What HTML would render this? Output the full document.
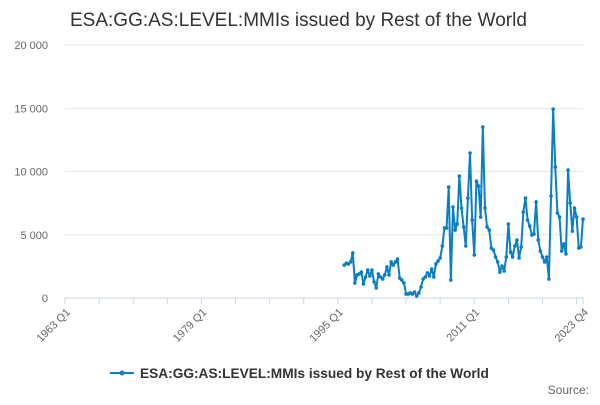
<!DOCTYPE html>
<html><head><meta charset="utf-8"><style>
body{margin:0;background:#fff;font-family:"Liberation Sans",sans-serif}
</style></head><body>
<svg width="600" height="400" xmlns="http://www.w3.org/2000/svg" id="chart">
<text x="70" y="26" font-size="19" fill="#333">ESA:GG:AS:LEVEL:MMIs issued by Rest of the World</text>
<g id="grid"></g><g id="xaxis"></g><g id="series"></g>
<g>
<line x1="110" y1="373" x2="134" y2="373" stroke="#0a7fc3" stroke-width="2"/>
<circle cx="122" cy="373" r="2.5" fill="#0a7fc3"/>
<text x="140" y="378" font-size="13.7" font-weight="bold" fill="#333">ESA:GG:AS:LEVEL:MMIs issued by Rest of the World</text>
</g>
<text x="589" y="394" font-size="12" fill="#666" text-anchor="end">Source:</text>
</svg>
<script>
const yTicks=[0,5000,10000,15000,20000];
const yTickLabels=["0","5 000","10 000","15 000","20 000"];
const xTickLabels=["1963 Q1","1979 Q1","1995 Q1","2011 Q1","2023 Q4"];
const xTickQuarters=[0,64,128,192,243];
const values=[2600,2750,2690,2850,3560,1190,1820,1900,2050,1110,1660,2210,1740,2210,1270,790,1900,1660,1500,1820,2450,1820,2850,2610,2850,3080,1580,1420,1190,320,320,400,320,470,160,400,870,1500,1660,1980,1740,2290,1660,2690,2920,3160,4110,5530,5530,8770,1420,7190,5370,5850,9640,7110,5610,4110,7900,11460,6160,3400,9240,8850,6400,13510,7110,5610,5370,3950,3790,3240,2850,2050,2530,2130,3240,5850,3630,3240,4110,4580,3160,4030,6790,7900,6160,5690,4980,5060,7590,4580,3710,3240,2850,3240,1500,8060,14930,10350,6720,6400,3710,4270,3480,10110,7500,5290,7110,6400,3950,4030,6240];
const lastQuarter=243;
const X0=65,X1=583,Y0=298,Y1=45;
const xs=q=>X0+(X1-X0)*q/lastQuarter;
const ys=v=>Y0-(Y0-Y1)*v/20000;
const NS="http://www.w3.org/2000/svg";
function mk(t,a,p){const e=document.createElementNS(NS,t);for(const k in a)e.setAttribute(k,a[k]);p.appendChild(e);return e;}
const grid=document.getElementById('grid');
yTicks.forEach((v,i)=>{
 if(v>0){const l=mk('line',{x1:X0,x2:X1,y1:ys(v),y2:ys(v),stroke:'#e6e6e6'},grid);
 
 }
 const t=mk('text',{x:48,y:ys(v)+4,'font-size':11,fill:'#666','text-anchor':'end'},grid);
 t.textContent=yTickLabels[i];
 
 
});
const xa=document.getElementById('xaxis');
const ax=mk('line',{x1:X0,x2:X1,y1:Y0,y2:Y0,stroke:'#ccd6eb'},xa);


for(let q=0;q<=lastQuarter;q+=16){mk('line',{x1:xs(q),x2:xs(q),y1:Y0,y2:Y0+6,stroke:'#ccd6eb'},xa);}
mk('line',{x1:X1,x2:X1,y1:Y0,y2:Y0+6,stroke:'#ccd6eb'},xa);
xTickQuarters.forEach((q,i)=>{
 const x=xs(q),y=Y0+12;
 const t=mk('text',{x:x+3,y:y+4,'font-size':11,fill:'#666','text-anchor':'end',transform:`rotate(-45 ${x+3} ${y})`},xa);
 t.textContent=xTickLabels[i];
 
 
});
const s=document.getElementById('series');
const start=lastQuarter-(values.length-1);
const pts=values.map((v,i)=>[xs(start+i),ys(v)]);
const pl=mk('polyline',{points:pts.map(p=>p.join(',')).join(' '),fill:'none',stroke:'#0a7fc3','stroke-width':2,'stroke-linejoin':'round'},s);


pts.forEach(p=>{const c=mk('circle',{cx:p[0],cy:p[1],r:1.8,fill:'#0a7fc3'},s);
 
 });
</script>
</body></html>
